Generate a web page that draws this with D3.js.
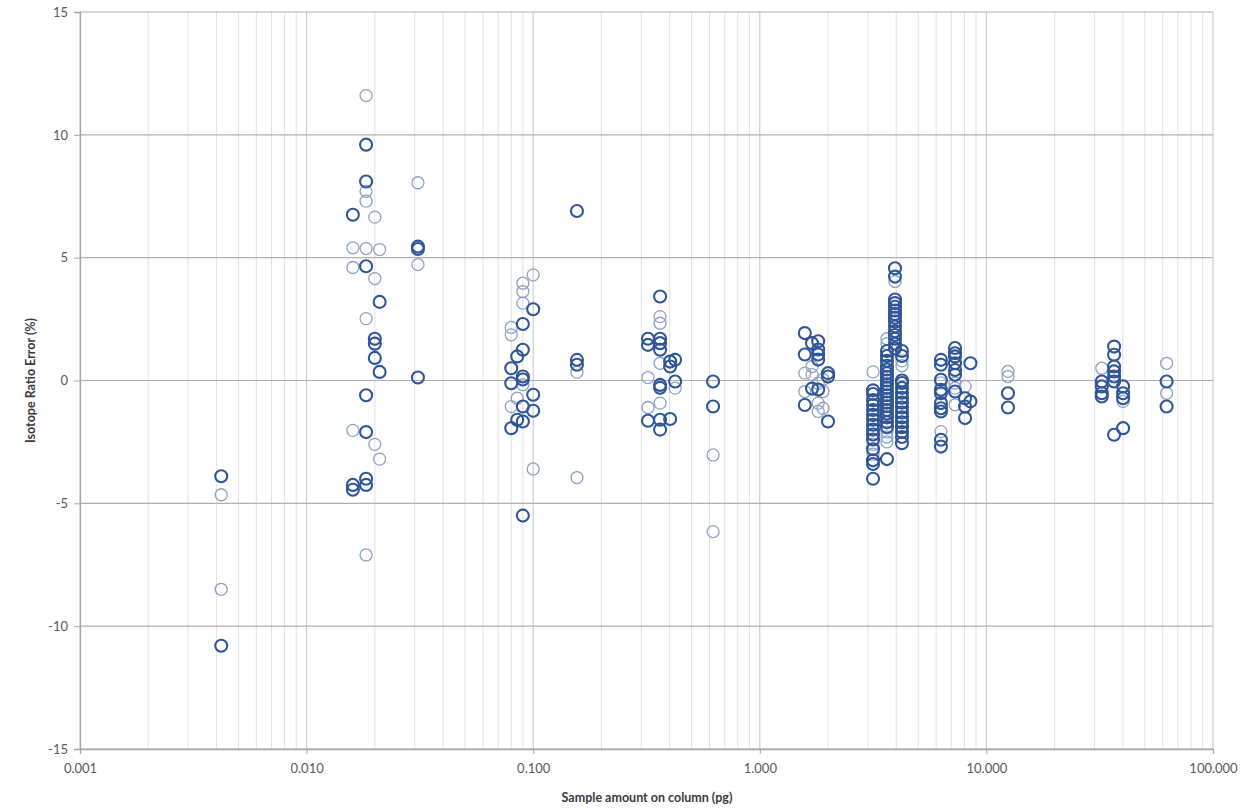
<!DOCTYPE html>
<html>
<head>
<meta charset="utf-8">
<script src="https://cdn.jsdelivr.net/npm/d3@7/dist/d3.min.js"></script>
<style>
html,body{margin:0;padding:0;background:#fff;}
svg{display:block;}
</style>
</head>
<body>
<svg id="chart" width="1259" height="809"></svg>
<script>
// ---------- DATA ----------
const xTickValues = [0.001, 0.01, 0.1, 1, 10, 100];
const xTickLabels = ["0.001", "0.010", "0.100", "1.000", "10.000", "100.000"];
const yTickValues = [-15, -10, -5, 0, 5, 10, 15];
const yTickLabels = ["-15", "-10", "-5", "0", "5", "10", "15"];
const xTitle = "Sample amount on column (pg)";
const yTitle = "Isotope Ratio Error (%)";

// Dark (bold) circles: [sample amount pg, error %]
const darkPoints = [
  [0.0042,-3.9],[0.0042,-10.8],
  [0.0183,9.6],[0.0183,8.1],[0.016,6.75],[0.031,5.45],[0.031,5.35],[0.0183,4.65],[0.021,3.2],
  [0.020,1.7],[0.020,1.5],[0.020,0.92],[0.021,0.35],[0.031,0.12],[0.0183,-0.6],[0.0183,-2.1],
  [0.0183,-4.0],[0.0183,-4.25],[0.016,-4.25],[0.016,-4.45],
  [0.1,2.9],[0.09,2.3],[0.09,1.25],[0.085,0.98],[0.08,0.5],[0.09,0.16],[0.09,0.04],[0.08,-0.11],
  [0.1,-0.58],[0.09,-1.06],[0.1,-1.23],[0.085,-1.6],[0.09,-1.67],[0.08,-1.94],[0.09,-5.5],
  [0.156,6.9],[0.156,0.84],[0.156,0.64],
  [0.363,3.42],[0.321,1.7],[0.363,1.7],[0.321,1.45],[0.363,1.52],[0.363,1.25],[0.423,0.84],
  [0.402,0.77],[0.402,0.57],[0.363,-0.18],[0.363,-0.3],[0.423,-0.04],[0.321,-1.64],[0.363,-1.6],
  [0.402,-1.57],[0.363,-2.0],
  [0.622,-0.04],[0.622,-1.06],
  [1.58,1.93],[1.7,1.52],[1.81,1.6],[1.81,1.26],[1.81,1.06],[1.58,1.06],[1.81,0.85],[2.0,0.3],
  [2.0,0.16],[1.7,-0.33],[1.81,-0.37],[1.58,-1.0],[2.0,-1.67],
  [3.95,4.57],[3.95,4.23],[3.95,3.3],[3.95,3.15],[3.95,3.0],[3.95,2.85],[3.95,2.7],[3.95,2.55],
  [3.95,2.4],[3.95,2.2],[3.95,2.0],[3.95,1.85],[3.95,1.7],[3.95,1.5],[3.95,1.3],
  [4.24,1.2],[4.24,1.0],[4.24,0.0],[4.24,-0.1],[4.24,-0.3],[4.24,-0.5],[4.24,-0.7],[4.24,-0.9],
  [4.24,-1.1],[4.24,-1.3],[4.24,-1.5],[4.24,-1.7],[4.24,-1.9],[4.24,-2.1],[4.24,-2.3],[4.24,-2.55],
  [3.64,1.2],[3.64,1.0],[3.64,0.8],[3.64,0.6],[3.64,0.45],[3.64,0.3],[3.64,0.15],[3.64,0.0],
  [3.64,-0.15],[3.64,-0.3],[3.64,-0.45],[3.64,-0.6],[3.64,-0.75],[3.64,-0.9],[3.64,-1.05],
  [3.64,-1.2],[3.64,-1.35],[3.64,-1.5],[3.64,-1.7],[3.64,-1.9],[3.64,-3.2],
  [3.16,-0.4],[3.16,-0.55],[3.16,-0.8],[3.16,-1.0],[3.16,-1.2],[3.16,-1.4],[3.16,-1.6],[3.16,-1.8],
  [3.16,-2.0],[3.16,-2.2],[3.16,-2.4],[3.16,-2.8],[3.16,-3.25],[3.16,-3.4],[3.16,-4.0],
  [6.3,0.84],[6.3,0.64],[6.3,0.03],[6.3,-0.38],[6.3,-0.52],[6.3,-0.92],[6.3,-1.13],[6.3,-1.26],
  [6.3,-2.41],[6.3,-2.69],
  [7.27,1.32],[7.27,1.11],[7.27,0.98],[7.27,0.7],[7.27,0.43],[7.27,0.23],[7.27,-0.45],
  [8.05,-0.72],[8.05,-1.06],[8.05,-1.53],[8.5,0.7],[8.5,-0.85],
  [12.45,-0.52],[12.45,-1.1],
  [32.3,-0.04],[32.3,-0.24],[32.3,-0.52],[32.3,-0.65],
  [36.6,1.38],[36.6,1.05],[36.6,0.57],[36.6,0.37],[36.6,0.16],[36.6,-0.04],[36.6,-2.21],
  [40.1,-0.24],[40.1,-0.52],[40.1,-0.72],[40.1,-1.94],
  [62.4,-0.04],[62.4,-1.06]
];

// Light (thin) circles: [sample amount pg, error %]
const lightPoints = [
  [0.0042,-4.65],[0.0042,-8.5],
  [0.0183,11.6],[0.0183,7.7],[0.0183,7.3],[0.020,6.65],[0.016,5.4],[0.0183,5.37],[0.021,5.33],
  [0.031,4.72],[0.016,4.6],[0.020,4.15],[0.0183,2.52],[0.016,-2.03],[0.020,-2.6],[0.021,-3.2],
  [0.0183,-7.1],[0.031,8.05],
  [0.1,4.3],[0.09,3.96],[0.09,3.62],[0.09,3.15],[0.08,2.16],[0.08,1.86],[0.09,-0.17],[0.085,-0.72],
  [0.08,-1.06],[0.1,-3.6],
  [0.156,0.34],[0.156,-3.95],
  [0.363,2.6],[0.363,2.33],[0.363,0.7],[0.321,0.12],[0.423,-0.31],[0.363,-0.92],[0.321,-1.1],
  [0.622,-3.03],[0.622,-6.15],
  [1.7,0.57],[1.58,0.3],[1.7,0.24],[1.9,0.04],[1.81,-0.11],[1.58,-0.45],[1.9,-0.45],[1.81,-0.92],
  [1.9,-1.13],[1.81,-1.26],
  [3.95,4.03],[4.24,0.8],[4.24,0.6],[3.64,1.7],[3.64,1.5],[3.64,-2.1],[3.64,-2.3],[3.64,-2.5],
  [3.16,0.35],[3.16,-2.6],[3.16,-3.0],
  [6.3,-0.1],[6.3,-2.08],[7.27,-0.11],[7.27,-0.31],[7.27,-0.99],[8.05,-0.24],
  [12.45,0.37],[12.45,0.16],
  [32.3,0.5],[40.1,-0.85],
  [62.4,0.7],[62.4,-0.52]
];

// ---------- LAYOUT ----------
const svg = d3.select("#chart");
const plotL = 80, plotR = 1213, plotT = 12, plotB = 749;

const x = d3.scaleLog().domain([0.001, 100]).range([plotL, plotR]);
const y = d3.scaleLinear().domain([-15, 15]).range([plotB, plotT]);

// minor vertical gridlines
const minor = [];
for (let e = -3; e < 2; e++) {
  for (let m = 2; m <= 9; m++) minor.push(m * Math.pow(10, e));
}
svg.append("g").selectAll("line").data(minor).join("line")
  .attr("x1", d => x(d)).attr("x2", d => x(d))
  .attr("y1", plotT).attr("y2", plotB)
  .attr("stroke", "#e3e0e0").attr("stroke-width", 1);

// major vertical gridlines
svg.append("g").selectAll("line").data(xTickValues).join("line")
  .attr("x1", d => x(d)).attr("x2", d => x(d))
  .attr("y1", plotT).attr("y2", plotB)
  .attr("stroke", "#c4c4c4").attr("stroke-width", 1);

// horizontal gridlines
svg.append("g").selectAll("line").data(yTickValues).join("line")
  .attr("x1", plotL).attr("x2", plotR)
  .attr("y1", d => y(d)).attr("y2", d => y(d))
  .attr("stroke", "#b0b0b0").attr("stroke-width", 1.2);

// axes
const yAxis = d3.axisLeft(y).tickValues(yTickValues)
  .tickFormat((d, i) => yTickLabels[i]).tickSize(6).tickPadding(6);
const gy = svg.append("g").attr("transform", `translate(${plotL},0)`).call(yAxis);
gy.select(".domain").attr("stroke", "#a6a6a6").attr("stroke-width", 1.3);
gy.selectAll(".tick line").attr("stroke", "#a6a6a6");
gy.selectAll("text").attr("fill", "#595959")
  .style("font-family", "Lato, 'Open Sans', sans-serif").style("font-size", "13px");

const xAxis = d3.axisBottom(x).tickValues(xTickValues)
  .tickFormat((d, i) => xTickLabels[i]).tickSize(5).tickPadding(10);
const gx = svg.append("g").attr("transform", `translate(0,${plotB})`).call(xAxis);
gx.select(".domain").attr("stroke", "#a6a6a6").attr("stroke-width", 1.3);
gx.selectAll(".tick line").attr("stroke", "#a6a6a6");
gx.selectAll("text").attr("fill", "#595959")
  .style("font-family", "Lato, 'Open Sans', sans-serif").style("font-size", "13px");

// titles
svg.append("text").attr("x", 647).attr("y", 802).attr("text-anchor", "middle")
  .attr("fill", "#3a3a3a").style("font-family", "Lato, 'Open Sans', sans-serif")
  .style("font-size", "12.5px").style("font-weight", "bold").text(xTitle);
svg.append("text").attr("transform", `translate(35,${(plotT + plotB) / 2}) rotate(-90)`)
  .attr("text-anchor", "middle").attr("fill", "#3a3a3a")
  .style("font-family", "Lato, 'Open Sans', sans-serif")
  .style("font-size", "12.5px").style("font-weight", "bold").text(yTitle);

// points
svg.append("g").selectAll("circle").data(lightPoints).join("circle")
  .attr("cx", d => x(d[0])).attr("cy", d => y(d[1])).attr("r", 6)
  .attr("fill", "none").attr("stroke", "#8ea2c3").attr("stroke-width", 1.3);
svg.append("g").selectAll("circle").data(darkPoints).join("circle")
  .attr("cx", d => x(d[0])).attr("cy", d => y(d[1])).attr("r", 6)
  .attr("fill", "none").attr("stroke", "#2f5597").attr("stroke-width", 2.1);
</script>
</body>
</html>
